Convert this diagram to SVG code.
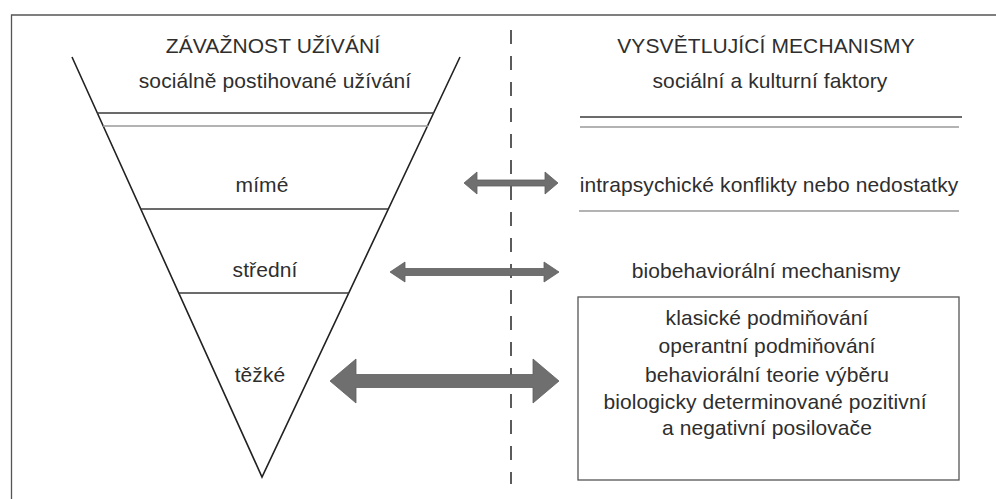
<svg xmlns="http://www.w3.org/2000/svg" width="996" height="499" viewBox="0 0 996 499">
<style>
text{font-family:"Liberation Sans",Arial,sans-serif;font-size:21px;fill:#2e2e2e;text-anchor:middle;letter-spacing:0.1px}
.ln{stroke:#3a3a3a;stroke-width:1.3;fill:none}
.lt{stroke:#9a9a9a;stroke-width:1.6;fill:none}
.frame{stroke:#555;stroke-width:1.3;fill:none}
.arr{fill:#6f6f6f;stroke:#5e5e5e;stroke-width:0.8}
</style>
<rect width="996" height="499" fill="#ffffff"/>
<g id="frame">
<path class="frame" d="M11.5 499 V15 H996"/>
</g>
<g id="severity-funnel">
<text x="273" y="53">ZÁVAŽNOST UŽÍVÁNÍ</text>
<polyline points="72,57 262,477 460,57" fill="none" stroke="#222" stroke-width="1.6"/>
<text x="275" y="88">sociálně postihované užívání</text>
<line class="ln" x1="97" y1="113" x2="434" y2="113"/>
<line class="lt" x1="103" y1="126" x2="428" y2="126"/>
</g>
<g id="level-mild">
<text x="262" y="192">mímé</text>
<line class="ln" x1="140.5" y1="209" x2="388" y2="209"/>
</g>
<g id="level-moderate">
<text x="265" y="277">střední</text>
<line class="ln" x1="178.5" y1="293" x2="349" y2="293"/>
</g>
<g id="level-severe">
<text x="260" y="382">těžké</text>
</g>
<g id="divider">
<line x1="511" y1="30" x2="511" y2="484" stroke="#333" stroke-width="1.6" stroke-dasharray="14 12"/>
</g>
<g id="mechanisms-title">
<text x="766" y="53">VYSVĚTLUJÍCÍ MECHANISMY</text>
</g>
<g id="mech-social">
<text x="770" y="88">sociální a kulturní faktory</text>
<line class="ln" x1="580" y1="117" x2="962" y2="117"/>
<line class="lt" x1="580" y1="127" x2="959" y2="127"/>
</g>
<g id="mech-intrapsychic">
<text x="769" y="192">intrapsychické konflikty nebo nedostatky</text>
<line class="lt" x1="579" y1="211" x2="959" y2="211"/>
</g>
<g id="mech-biobehavioral">
<text x="766" y="278">biobehaviorální mechanismy</text>
<rect x="578" y="297" width="381" height="183" fill="none" stroke="#555" stroke-width="1.3"/>
<text x="767" y="325">klasické podmiňování</text>
<text x="767" y="353">operantní podmiňování</text>
<text x="767" y="382">behaviorální teorie výběru</text>
<text x="765" y="409">biologicky determinované pozitivní</text>
<text x="767" y="435">a negativní posilovače</text>
</g>
<g id="connectors">
<polygon class="arr" points="464,183 477,172 477,180 545,180 545,172 558,183 545,194 545,186 477,186 477,194"/>
<polygon class="arr" points="390,272 405,262 405,268.5 544,268.5 544,262 559,272 544,282 544,275.5 405,275.5 405,282"/>
<polygon class="arr" points="330,381 356,359 356,374.5 533,374.5 533,359 559,381 533,403 533,387.5 356,387.5 356,403"/>
</g>
</svg>
